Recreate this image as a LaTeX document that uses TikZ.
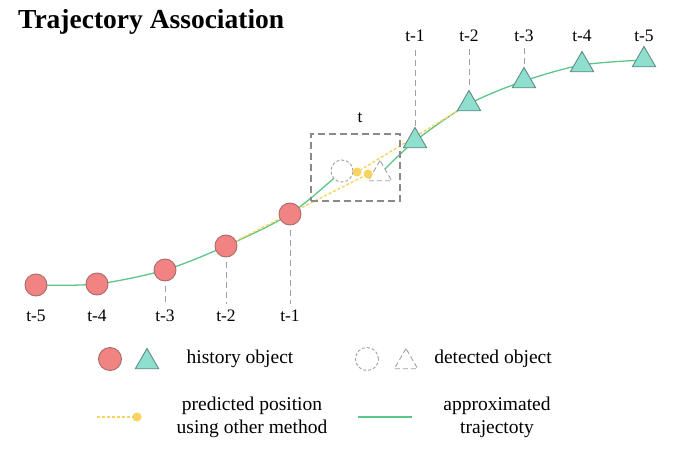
\documentclass[tikz,border=0pt]{standalone}
\usepackage{fontspec}
\setmainfont{Liberation Serif}
\usetikzlibrary{shapes.geometric, backgrounds}

\definecolor{histred}{HTML}{F28383}
\definecolor{histredline}{HTML}{A86A6A}
\definecolor{histteal}{HTML}{8FDFCF}
\definecolor{histtealline}{HTML}{5E8C86}
\definecolor{trajgreen}{HTML}{5CC68A}
\definecolor{predyellow}{HTML}{F8D35E}
\definecolor{dashgrey}{HTML}{A0A0A0}
\definecolor{boxgrey}{HTML}{8A8A8A}

\begin{document}
\begin{tikzpicture}[x=1pt, y=-1pt,
    hist circ/.style={circle, draw=histredline, fill=histred, line width=0.9pt, minimum size=22pt, inner sep=0pt},
    hist tri/.style={regular polygon, regular polygon sides=3, draw=histtealline, fill=histteal, line width=0.9pt, minimum size=27pt, inner sep=0pt},
    det circ/.style={circle, draw=dashgrey, dash pattern=on 3pt off 2pt, fill=white, line width=0.9pt, minimum size=22pt, inner sep=0pt},
    det tri/.style={regular polygon, regular polygon sides=3, draw=dashgrey, dash pattern=on 5pt off 3pt, fill=white, line width=0.9pt, minimum size=27pt, inner sep=0pt},
    pred dot/.style={circle, fill=predyellow, minimum size=9pt, inner sep=0pt},
    traj/.style={trajgreen, line width=1.3pt},
    pred/.style={predyellow, line width=1.4pt, dash pattern=on 3pt off 2pt},
    guide/.style={dashgrey, line width=0.9pt, dash pattern=on 6pt off 4pt, shorten <=5pt, shorten >=6pt},
    lbl/.style={font=\fontsize{17.5}{20}\selectfont, inner sep=0pt},
    legend/.style={font=\fontsize{19.5}{23}\selectfont, align=center, inner sep=0pt}]
  \useasboundingbox (0,0) rectangle (681,453);

  \node[font=\fontsize{27.5}{30}\selectfont\bfseries, anchor=west, inner sep=0pt] (title) at (18,22) {Trajectory Association};

  % history objects
  \node[hist circ] (c5) at (36,285) {};
  \node[hist circ] (c4) at (97,284) {};
  \node[hist circ] (c3) at (165,270) {};
  \node[hist circ] (c2) at (226,246) {};
  \node[hist circ] (c1) at (290,214) {};
  \node[hist tri] (tr1) at (415,141) {};
  \node[hist tri] (tr2) at (469,104) {};
  \node[hist tri] (tr3) at (524,81) {};
  \node[hist tri] (tr4) at (582,65) {};
  \node[hist tri] (tr5) at (644,60) {};

  % current frame
  \node[draw=boxgrey, line width=1.4pt, dash pattern=on 7pt off 4pt, minimum width=89pt, minimum height=67pt] (win) at (355.5,167.5) {};
  \node[lbl] (tlbl) at (360,118) {t};
  \node[det circ] (dc) at (342,171) {};
  \node[det tri] (dt) at (380,174) {};
  \node[pred dot] (p1) at (357,172) {};
  \node[pred dot] (p2) at (368,174) {};

  \node[lbl] (l5) at (36,316) {t-5};
  \node[lbl] (l4) at (97,316) {t-4};
  \node[lbl] (l3) at (165,316) {t-3};
  \node[lbl] (l2) at (226,316) {t-2};
  \node[lbl] (l1) at (290,316) {t-1};
  \node[lbl] (u1) at (415,36) {t-1};
  \node[lbl] (u2) at (469,36) {t-2};
  \node[lbl] (u3) at (524,36) {t-3};
  \node[lbl] (u4) at (582,36) {t-4};
  \node[lbl] (u5) at (644,36) {t-5};

  \begin{scope}[on background layer]
    \draw[traj] plot[smooth] coordinates {(c5) (c4) (c3) (c2) (c1) (dc)};
    \draw[traj] plot[smooth] coordinates {(dt) (tr1) (tr2) (tr3) (tr4) (tr5)};
    \draw[pred] (c2.center) -- (p2);
    \draw[pred] (tr2.center) -- (p1);
    \draw[guide] (c3) -- (l3);
    \draw[guide] (c2) -- (l2);
    \draw[guide] (c1) -- (l1);
    \draw[guide, shorten <=1pt] (tr1) -- (u1);
    \draw[guide] (tr2) -- (u2);
    \draw[guide, shorten <=3pt] (tr3) -- (u3);
  \end{scope}

  % legend
  \node[hist circ, minimum size=23pt] (lgc) at (110,359) {};
  \node[hist tri] (lgt) at (147,362) {};
  \node[legend] (lghist) at (240,359) {history object};
  \node[det circ, minimum size=23pt] (lgdc) at (367,359) {};
  \node[det tri] (lgdt) at (406,362) {};
  \node[legend] (lgdet) at (493,359) {detected object};
  \coordinate (lgps) at (97,417);
  \node[pred dot] (lgpd) at (137,417) {};
  \draw[pred] (lgps) -- (lgpd);
  \node[legend] (lgpred) at (252,417) {predicted position\\using other method};
  \coordinate (lgts) at (358,417);
  \coordinate (lgte) at (412,417);
  \draw[traj] (lgts) -- (lgte);
  \node[legend] (lgtraj) at (497,417) {approximated\\trajectoty};
\end{tikzpicture}
\end{document}
